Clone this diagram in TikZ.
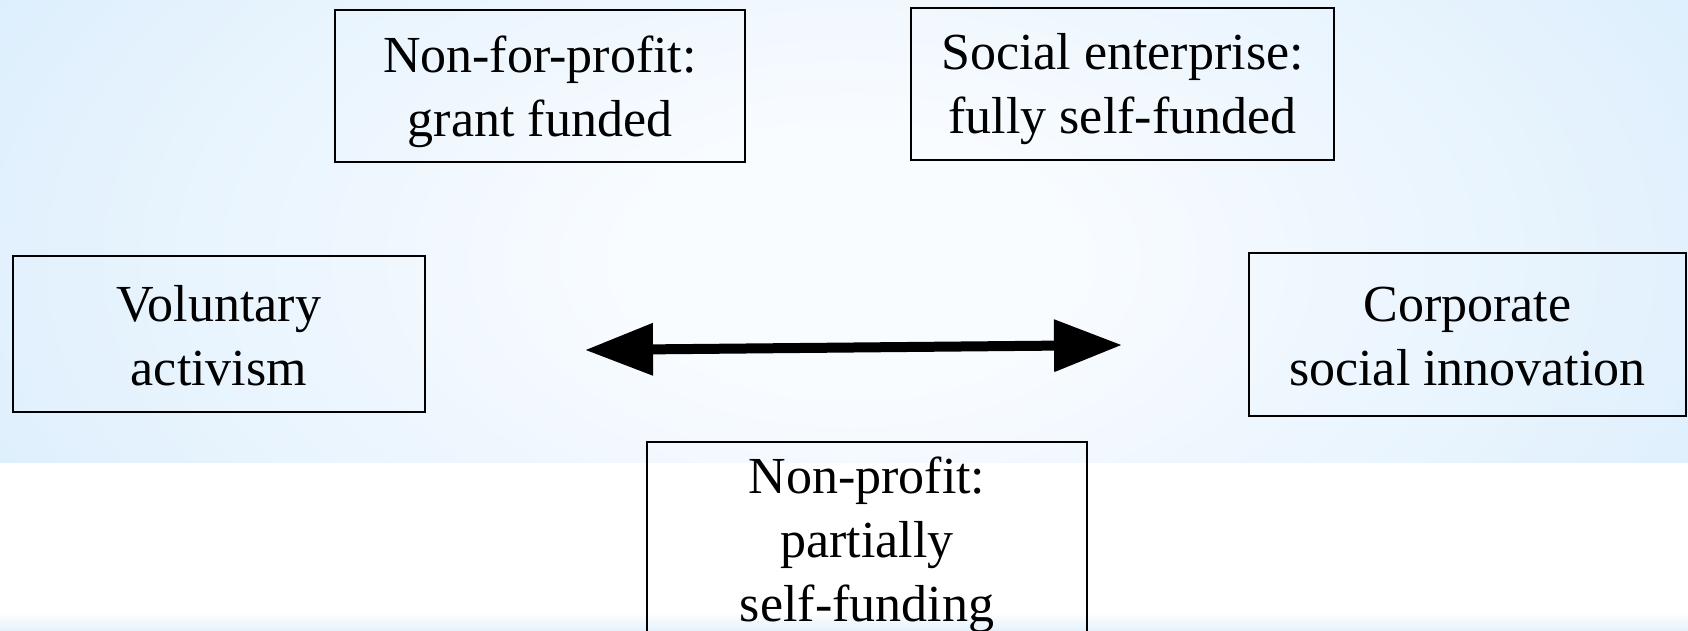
\documentclass[tikz,border=0pt]{standalone}
\usepackage{fontspec}
\setmainfont{Liberation Serif}
\usetikzlibrary{arrows.meta}
\definecolor{bgc}{RGB}{249,252,255}
\definecolor{bge}{RGB}{203,230,251}
\definecolor{bgb}{RGB}{228,241,252}
\pgfdeclareradialshading{bgshade}{\pgfpoint{0bp}{0bp}}{color(0bp)=(bgc); color(6bp)=(bgc); color(43bp)=(bge); color(80bp)=(bge)}
\tikzset{
  box/.style={draw=black, line width=1.1pt, inner sep=0pt},
  txt/.style={inner sep=0pt, align=center, font=\fontsize{26}{32}\selectfont},
  bigarrow/.style={line width=5pt, {Triangle[length=34pt,width=25pt]}-{Triangle[length=34pt,width=25pt]}}
}
\begin{document}
\begin{tikzpicture}[x=0.5pt,y=-0.5pt]
\useasboundingbox (0,0) rectangle (1688,631);
\fill[white] (0,0) rectangle (1688,631);
\begin{scope}
\clip (0,0) rectangle (1688,462);
\shade[shading=bgshade] (0,-230) rectangle (1700,750);
\end{scope}
\shade[top color=white, bottom color=bgb] (0,612) rectangle (1688,631);
\node[box, minimum width=205pt, minimum height=76pt,
  label={[txt,yshift=-2.8pt]center:{Non-for-profit:\\grant funded}}] (nfp) at (540,86) {};
\node[box, minimum width=211.5pt, minimum height=76pt,
  label={[txt,yshift=-2.6pt]center:{Social enterprise:\\fully self-funded}}] (se) at (1122.5,84) {};
\node[box, minimum width=206pt, minimum height=78pt,
  label={[txt,yshift=-1pt]center:{Voluntary\\activism}}] (va) at (219,334) {};
\node[box, minimum width=218.5pt, minimum height=81.5pt,
  label={[txt,yshift=-1pt]center:{Corporate\\social innovation}}] (csi) at (1467.5,334.5) {};
\node[box, minimum width=220pt, minimum height=103pt,
  label={[txt]center:{Non-profit:\\partially\\self-funding}}] (np) at (867,545) {};
\coordinate (aL) at (585,350);
\coordinate (aR) at (1122,345);
\draw[bigarrow] (aL) -- (aR);
\end{tikzpicture}
\end{document}
